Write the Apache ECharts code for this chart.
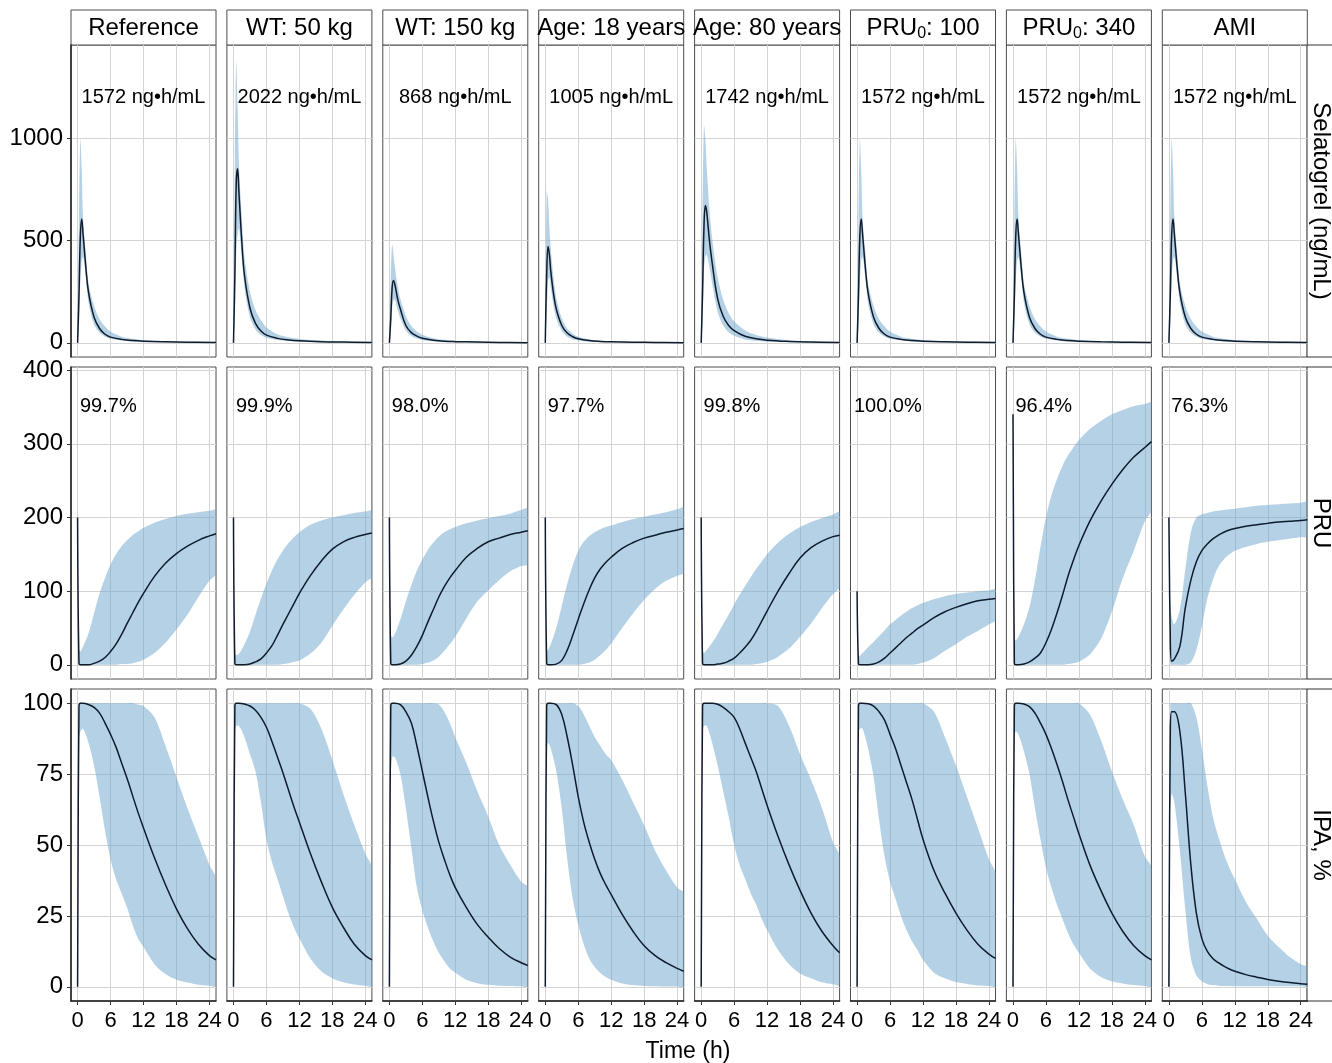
<!DOCTYPE html>
<html>
<head>
<meta charset="utf-8">
<script src="https://cdn.jsdelivr.net/npm/echarts@6/dist/echarts.min.js"></script>
<style>
html, body { margin: 0; padding: 0; background: #fff; }
#chart { width: 1332px; height: 1063px; }
</style>
</head>
<body>
<div id="chart"></div>
<script>
// facet labels
var panelNames = ['Reference', 'WT: 50 kg', 'WT: 150 kg', 'Age: 18 years', 'Age: 80 years', 'PRU{s|0}: 100', 'PRU{s|0}: 340', 'AMI'];
var aucLabels = ['1572 ng•h/mL', '2022 ng•h/mL', '868 ng•h/mL', '1005 ng•h/mL', '1742 ng•h/mL', '1572 ng•h/mL', '1572 ng•h/mL', '1572 ng•h/mL'];
var ipaLabels = ['99.7%', '99.9%', '98.0%', '97.7%', '99.8%', '100.0%', '96.4%', '76.3%'];
var rowNames = ['Selatogrel (ng/mL)', 'PRU', 'IPA, %'];

// ticks
var xTicks = [0, 6, 12, 18, 24];
var concTicks = [0, 500, 1000];
var pruTicks = [0, 100, 200, 300, 400];
var ipaTicks = [0, 25, 50, 75, 100];

// time grids (h); bands use the tail of the grid that matches their length
var tConc = [0, 0.25, 0.5, 0.75, 1, 1.5, 2, 3, 4, 5, 6, 8, 10, 12, 16, 20, 25.2];
var tPd = [0, 0.25, 0.5, 1, 2, 3, 4, 5, 6, 7, 8, 9, 10, 11, 12, 14, 16, 18, 20, 22, 24, 25.2];

// selatogrel concentration: median, 5th, 95th percentile
var concRefMed = [0, 230, 520, 605, 530, 370, 245, 125, 70, 42, 28, 17, 11, 8, 5, 3, 2];
var concRefLo = [0, 80, 300, 400, 420, 320, 195, 90, 50, 30, 20, 12, 7, 5, 3, 2, 1];
var concRefHi = [0, 600, 995, 850, 610, 440, 290, 180, 115, 80, 55, 30, 20, 14, 8, 5, 3];
var concWt50Med = [0, 330, 780, 850, 730, 500, 330, 170, 95, 58, 38, 22, 14, 10, 6, 4, 2];
var concWt50Lo = [0, 120, 430, 530, 560, 420, 270, 125, 65, 38, 25, 14, 9, 6, 3, 2, 1];
var concWt50Hi = [0, 900, 1370, 1150, 870, 620, 420, 250, 160, 110, 75, 42, 27, 19, 11, 7, 4];
var concWt150Med = [0, 120, 270, 305, 285, 215, 165, 85, 50, 33, 23, 13, 8, 6, 4, 2, 1];
var concWt150Lo = [0, 40, 160, 210, 210, 160, 120, 60, 33, 21, 14, 8, 5, 3, 2, 1, 1];
var concWt150Hi = [0, 330, 480, 430, 370, 280, 215, 130, 82, 56, 40, 23, 15, 10, 6, 3, 2];
var concAge18Med = [0, 330, 470, 430, 350, 240, 165, 85, 48, 30, 20, 11, 7, 5, 3, 2, 1];
var concAge18Lo = [0, 120, 300, 320, 270, 180, 120, 58, 30, 18, 12, 6, 4, 3, 1, 1, 0];
var concAge18Hi = [0, 740, 700, 560, 460, 320, 220, 120, 70, 45, 30, 17, 11, 7, 4, 2, 1];
var concAge80Med = [0, 250, 560, 670, 640, 500, 390, 215, 130, 85, 60, 32, 20, 13, 7, 4, 2];
var concAge80Lo = [0, 90, 350, 420, 430, 370, 290, 150, 85, 52, 35, 17, 10, 6, 3, 1, 1];
var concAge80Hi = [0, 650, 1060, 1000, 860, 650, 510, 320, 210, 145, 105, 60, 38, 26, 13, 7, 4];

// PRU
var pruRefMed = [200, 2, 0, 0, 0, 2, 5, 10, 18, 28, 41, 56, 70, 84, 97, 120, 138, 151, 161, 169, 175, 178];
var pruRefLo = [0, 0, 0, 0, 0, 0, 0, 0, 0, 1, 1, 2, 4, 7, 16, 30, 48, 68, 92, 114, 124];
var pruRefHi = [20, 18, 25, 43, 70, 97, 118, 136, 150, 161, 169, 176, 181, 186, 193, 198, 202, 205, 207, 209, 210];
var pruWt50Med = [200, 2, 0, 0, 0, 1, 4, 8, 16, 26, 40, 55, 69, 83, 97, 121, 141, 157, 167, 173, 177, 179];
var pruWt50Lo = [0, 0, 0, 0, 0, 0, 0, 0, 0, 0, 1, 2, 4, 6, 15, 30, 53, 75, 95, 112, 120];
var pruWt50Hi = [15, 13, 15, 28, 45, 68, 90, 110, 128, 143, 155, 165, 173, 180, 190, 196, 200, 203, 206, 208, 209];
var pruWt150Med = [200, 2, 0, 0, 1, 5, 13, 25, 40, 58, 75, 92, 106, 118, 128, 146, 158, 167, 172, 177, 180, 182];
var pruWt150Lo = [0, 0, 0, 0, 0, 0, 0, 1, 3, 6, 11, 19, 28, 38, 63, 86, 101, 115, 127, 134, 137];
var pruWt150Hi = [40, 37, 42, 62, 86, 108, 128, 143, 156, 166, 174, 180, 184, 187, 192, 196, 199, 202, 205, 210, 212];
var pruAge18Med = [200, 2, 0, 0, 1, 6, 20, 40, 62, 83, 102, 118, 130, 139, 146, 158, 166, 172, 176, 180, 183, 185];
var pruAge18Lo = [0, 0, 0, 0, 0, 0, 0, 0, 1, 3, 7, 13, 20, 29, 50, 70, 88, 103, 114, 121, 125];
var pruAge18Hi = [18, 20, 28, 50, 80, 110, 135, 155, 167, 175, 180, 184, 187, 189, 194, 198, 201, 204, 207, 211, 213];
var pruAge80Med = [200, 2, 0, 0, 0, 1, 2, 5, 9, 16, 24, 33, 45, 59, 73, 100, 124, 145, 159, 168, 174, 176];
var pruAge80Lo = [0, 0, 0, 0, 0, 0, 0, 0, 0, 0, 0, 1, 2, 4, 11, 22, 38, 56, 77, 96, 106];
var pruAge80Hi = [18, 16, 20, 30, 42, 55, 68, 82, 95, 107, 119, 130, 140, 150, 166, 178, 187, 194, 199, 204, 207];
var pru100Med = [100, 1, 0, 0, 0, 1, 4, 9, 16, 23, 30, 37, 43, 49, 54, 64, 72, 78, 83, 87, 89, 90];
var pru100Lo = [0, 0, 0, 0, 0, 0, 0, 0, 0, 0, 0, 0, 1, 3, 9, 19, 28, 38, 46, 55, 61];
var pru100Hi = [10, 12, 16, 24, 31, 39, 47, 55, 61, 67, 72, 77, 81, 84, 89, 93, 96, 98, 100, 101, 102];
var pru340Med = [340, 2, 0, 0, 1, 4, 9, 16, 30, 48, 70, 94, 120, 142, 162, 195, 222, 245, 265, 282, 295, 303];
var pru340Lo = [0, 0, 0, 0, 0, 0, 0, 0, 0, 0, 0, 1, 2, 4, 14, 35, 72, 118, 155, 195, 210];
var pru340Hi = [35, 33, 38, 55, 78, 115, 160, 200, 230, 252, 270, 284, 295, 305, 320, 331, 340, 346, 351, 354, 356];
var pruAmiMed = [200, 40, 5, 8, 25, 78, 115, 140, 155, 164, 171, 176, 180, 183, 185, 188, 190, 192, 194, 195, 196, 197];
var pruAmiLo = [0, 0, 0, 0, 0, 3, 20, 52, 90, 115, 133, 143, 150, 155, 160, 164, 167, 169, 171, 173, 174];
var pruAmiHi = [90, 65, 55, 75, 130, 180, 200, 204, 206, 208, 209, 210, 211, 212, 214, 216, 217, 218, 219, 220, 221];

// IPA, %
var ipaRefMed = [0, 99, 100, 100, 99.5, 98.5, 96.5, 93, 89, 84.5, 79, 73.5, 67.5, 61.5, 56, 45.5, 36, 27.5, 20.5, 15, 11, 9.5];
var ipaRefLo = [88, 90, 91, 86, 78, 67, 55, 45, 38, 33, 28, 22, 17, 14, 8, 4.5, 2.5, 1.5, 0.7, 0.4, 0.3];
var ipaRefHi = [100, 100, 100, 100, 100, 100, 100, 100, 100, 100, 100, 100, 99.5, 99, 95, 85, 74, 63, 53, 43, 38];
var ipaWt50Med = [0, 99, 100, 100, 99.7, 99, 97.5, 95, 91.5, 86.5, 81, 75.5, 69.5, 63.5, 58, 47, 37, 28, 21, 15, 11, 9.5];
var ipaWt50Lo = [90, 92, 92, 88, 82, 76, 65, 52, 44, 38, 32, 26, 21, 17, 10, 5.5, 3, 1.6, 0.8, 0.4, 0.3];
var ipaWt50Hi = [100, 100, 100, 100, 100, 100, 100, 100, 100, 100, 100, 100, 100, 100, 98, 91, 80, 68, 57, 47, 42];
var ipaWt150Med = [0, 99, 100, 100, 99.5, 97, 93, 85, 76, 67, 58.5, 51, 45, 39.5, 35, 28, 22, 17.5, 13.5, 10.5, 8.5, 7.5];
var ipaWt150Lo = [75, 81, 81, 75, 63, 49, 35, 27, 21, 16, 12, 9, 6.5, 5, 2.5, 1.3, 0.7, 0.4, 0.3, 0.2, 0.2];
var ipaWt150Hi = [100, 100, 100, 100, 100, 100, 100, 100, 100, 100, 99.5, 97, 93, 88, 79, 69, 60, 50, 43, 37, 35];
var ipaAge18Med = [0, 99, 100, 100, 99.5, 96, 88, 78, 67, 58, 51, 45, 40, 36, 32.5, 25.5, 19.5, 14.5, 11, 8.5, 6.5, 5.5];
var ipaAge18Lo = [82, 86, 84, 76, 63, 45, 31, 22, 15, 10, 7, 5, 3.5, 2.5, 1.2, 0.6, 0.3, 0.2, 0.1, 0.1, 0.1];
var ipaAge18Hi = [100, 100, 100, 100, 100, 100, 100, 99, 96, 92, 88, 85, 82, 80, 73, 65, 57, 48, 41, 35, 33];
var ipaAge80Med = [0, 99, 100, 100, 100, 99.6, 98.5, 97, 95, 91, 86, 81, 76, 70, 64, 53, 43, 34, 26, 19.5, 14.5, 12];
var ipaAge80Lo = [90, 92, 92, 86, 78, 69, 60, 50, 43, 38, 33, 29, 24, 20, 13, 8, 4.7, 3, 1.6, 0.9, 0.7];
var ipaAge80Hi = [100, 100, 100, 100, 100, 100, 100, 100, 100, 100, 100, 100, 100, 100, 99, 92, 82, 73, 63, 51, 46];
var ipa100Med = [0, 99, 100, 100, 99.8, 99, 97, 94, 89, 84, 78, 72, 66, 59, 52, 41, 33, 26, 20, 15, 11.5, 10];
var ipa100Lo = [89, 91, 91, 84, 74, 59, 46, 37, 31, 25, 20, 16, 13, 9.5, 5, 3, 1.7, 1, 0.5, 0.3, 0.2];
var ipa100Hi = [100, 100, 100, 100, 100, 100, 100, 100, 100, 100, 100, 100, 100, 100, 97, 88, 78, 67, 56, 45, 40];
var ipa340Med = [0, 99, 100, 100, 99.7, 98.8, 96.5, 93, 89, 84, 78.5, 72.5, 66, 60, 54, 43, 34, 26, 19.5, 14.5, 11, 9.5];
var ipa340Lo = [89, 90, 89, 83, 75, 63, 52, 42, 35, 29, 24, 19, 15, 12, 6.5, 3.5, 2, 1.2, 0.6, 0.3, 0.2];
var ipa340Hi = [100, 100, 100, 100, 100, 100, 100, 100, 100, 100, 100, 100, 100, 100, 96, 87, 76, 66, 57, 46, 42];
var ipaAmiMed = [0, 88, 97, 97, 90, 68, 43, 26, 17, 12.5, 10, 8.5, 7.3, 6.3, 5.5, 4.3, 3.4, 2.6, 2, 1.5, 1.1, 0.9];
var ipaAmiLo = [62, 68, 65, 48, 27, 10, 4, 2, 1, 0.6, 0.4, 0.3, 0.3, 0.2, 0.2, 0.2, 0.2, 0.2, 0.2, 0.2, 0.2];
var ipaAmiHi = [100, 100, 100, 100, 100, 100, 95, 84, 71, 60, 53, 47, 42, 38, 30, 24, 18, 14, 10.5, 8, 7];

// [lo, med, hi] per facet; the three PRU0/AMI facets show the reference exposure
var concSets = [
    [concRefLo, concRefMed, concRefHi], [concWt50Lo, concWt50Med, concWt50Hi],
    [concWt150Lo, concWt150Med, concWt150Hi], [concAge18Lo, concAge18Med, concAge18Hi],
    [concAge80Lo, concAge80Med, concAge80Hi], [concRefLo, concRefMed, concRefHi],
    [concRefLo, concRefMed, concRefHi], [concRefLo, concRefMed, concRefHi]
];
var pruSets = [
    [pruRefLo, pruRefMed, pruRefHi], [pruWt50Lo, pruWt50Med, pruWt50Hi],
    [pruWt150Lo, pruWt150Med, pruWt150Hi], [pruAge18Lo, pruAge18Med, pruAge18Hi],
    [pruAge80Lo, pruAge80Med, pruAge80Hi], [pru100Lo, pru100Med, pru100Hi],
    [pru340Lo, pru340Med, pru340Hi], [pruAmiLo, pruAmiMed, pruAmiHi]
];
var ipaSets = [
    [ipaRefLo, ipaRefMed, ipaRefHi], [ipaWt50Lo, ipaWt50Med, ipaWt50Hi],
    [ipaWt150Lo, ipaWt150Med, ipaWt150Hi], [ipaAge18Lo, ipaAge18Med, ipaAge18Hi],
    [ipaAge80Lo, ipaAge80Med, ipaAge80Hi], [ipa100Lo, ipa100Med, ipa100Hi],
    [ipa340Lo, ipa340Med, ipa340Hi], [ipaAmiLo, ipaAmiMed, ipaAmiHi]
];

var rows = [
    {time: tConc, sets: concSets, min: -69, max: 1454, ticks: concTicks, labels: aucLabels, at: [12, 1200]},
    {time: tPd, sets: pruSets, min: -19.25, max: 404.25, ticks: pruTicks, labels: ipaLabels, at: [5.6, 350]},
    {time: tPd, sets: ipaSets, min: -5, max: 105, ticks: ipaTicks, labels: null, at: null}
];

var FONT = '"Liberation Sans", Arial, sans-serif';
var TXT = '#000';
var BORDER = '#4d4d4d';
var GRIDLINE = '#d4d4d4';
var BAND = 'rgba(107,163,206,0.5)';
var LINE = '#0e1c2c';

var PW = 145, PH = 312;
var rowTop = [45, 367, 689];
function colLeft(c) { return 71 + c * 155.9; }

function zip(xs, ys) {
    var off = xs.length - ys.length;
    return ys.map(function(y, i) { return [xs[i + off], y]; });
}

// ribbon between lo and hi, drawn once per facet through the axis scales
function makeBand(points) {
    return function(params, api) {
        if (params.dataIndex !== 0) return null;
        var cs = params.coordSys;
        var top = [], bottom = [];
        points.forEach(function(p) {
            top.push(api.coord([p[0], p[2]]));
            bottom.unshift(api.coord([p[0], p[1]]));
        });
        return {
            type: 'polygon',
            shape: {
                points: top.concat(bottom), smooth: 0.3,
                smoothConstraint: [[cs.x, cs.y], [cs.x + cs.width, cs.y + cs.height]]
            },
            style: {fill: BAND}
        };
    };
}

var grids = [], xAxes = [], yAxes = [], series = [], graphics = [];

rows.forEach(function(row, r) {
    row.sets.forEach(function(set, c) {
        var idx = r * 8 + c;
        var bottomRow = r === 2, leftCol = c === 0;
        grids.push({
            left: colLeft(c), top: rowTop[r], width: PW, height: PH,
            show: true, backgroundColor: '#fff', borderColor: BORDER, borderWidth: 1
        });
        xAxes.push({
            type: 'value', gridIndex: idx, min: -1.2, max: 25.2,
            axisLine: {show: bottomRow, onZero: false, lineStyle: {color: '#222', width: 1.5}},
            axisTick: {show: bottomRow, customValues: xTicks, length: 4, lineStyle: {color: '#333'}},
            axisLabel: {show: bottomRow, customValues: xTicks, margin: 9, fontSize: 22, fontFamily: FONT, color: TXT},
            splitLine: {show: true, lineStyle: {color: GRIDLINE, width: 1}}
        });
        yAxes.push({
            type: 'value', gridIndex: idx, min: row.min, max: row.max,
            axisLine: {show: leftCol, onZero: false, lineStyle: {color: '#222', width: 1.5}},
            axisTick: {show: leftCol, customValues: row.ticks, length: 4, lineStyle: {color: '#333'}},
            axisLabel: {show: leftCol, customValues: row.ticks, margin: 8, fontSize: 24, fontFamily: FONT, color: TXT,
                formatter: function(v) { return String(v); }},
            splitLine: {show: true, lineStyle: {color: GRIDLINE, width: 1}}
        });

        var lo = set[0], med = set[1], hi = set[2];
        var off = row.time.length - lo.length;
        var bandData = lo.map(function(v, i) { return [row.time[i + off], v, hi[i]]; });
        series.push({
            type: 'custom', xAxisIndex: idx, yAxisIndex: idx, silent: true, z: 2,
            renderItem: makeBand(bandData), data: bandData
        });
        series.push({
            type: 'line', xAxisIndex: idx, yAxisIndex: idx, symbol: 'none', silent: true,
            smooth: 0.4, data: zip(row.time, med), z: 5,
            lineStyle: {color: LINE, width: 1.5}
        });
        if (row.labels) {
            series.push({
                type: 'scatter', xAxisIndex: idx, yAxisIndex: idx, silent: true, z: 6,
                data: [row.at], symbolSize: 1, itemStyle: {color: 'rgba(0,0,0,0)'},
                label: {show: true, position: 'inside', formatter: row.labels[c],
                    fontSize: 20, fontFamily: FONT, color: TXT, textBorderWidth: 0, opacity: 1}
            });
        }
    });

    // right strip
    graphics.push({
        type: 'rect', shape: {x: 1307, y: rowTop[r], width: 40, height: PH},
        style: {fill: '#fff', stroke: '#333', lineWidth: 1}, silent: true
    });
    graphics.push({
        type: 'text', x: 1321, y: rowTop[r] + PH / 2, rotation: -Math.PI / 2,
        style: {text: rowNames[r], fontSize: 24, fontFamily: FONT, fill: TXT,
            align: 'center', verticalAlign: 'middle', textAlign: 'center', textVerticalAlign: 'middle'},
        silent: true
    });
});

// top strips
panelNames.forEach(function(name, c) {
    graphics.push({
        type: 'rect', shape: {x: colLeft(c), y: 10, width: PW, height: 35},
        style: {fill: '#fff', stroke: BORDER, lineWidth: 1}, silent: true
    });
    graphics.push({
        type: 'text', x: colLeft(c) + PW / 2, y: 28,
        style: {text: name, fontSize: 24, fontFamily: FONT, fill: TXT,
            align: 'center', verticalAlign: 'middle', textAlign: 'center', textVerticalAlign: 'middle',
            rich: {s: {fontSize: 16, fontFamily: FONT, fill: TXT, padding: [12, 0, 0, 0]}}},
        silent: true
    });
});

graphics.push({
    type: 'text', x: 688, y: 1052,
    style: {text: 'Time (h)', fontSize: 23, fontFamily: FONT, fill: TXT,
        align: 'center', verticalAlign: 'middle', textAlign: 'center', textVerticalAlign: 'middle'},
    silent: true
});

var chart = echarts.init(document.getElementById('chart'), null, {renderer: 'canvas'});
chart.setOption({
    backgroundColor: '#fff',
    animation: false,
    grid: grids,
    xAxis: xAxes,
    yAxis: yAxes,
    series: series,
    graphic: {elements: graphics}
});
</script>
</body>
</html>
